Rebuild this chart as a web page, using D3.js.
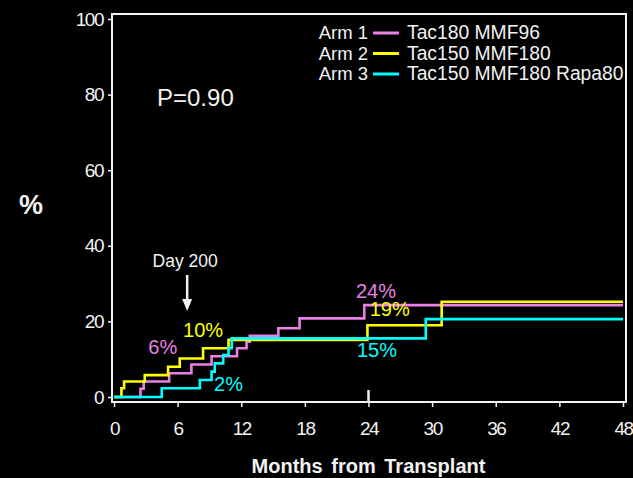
<!DOCTYPE html>
<html>
<head>
<meta charset="utf-8">
<script src="https://cdn.jsdelivr.net/npm/d3@7"></script>
<style>
  html, body { margin: 0; padding: 0; background: #000; }
  svg { display: block; }
  text { font-family: "Liberation Sans", Arial, Helvetica, sans-serif; fill: #f2f2f2; }
</style>
</head>
<body>
<svg id="chart" width="633" height="478"></svg>
<script>
// Cumulative incidence (%) by months from transplant, one step curve per arm
const arm1Months = [0, 2.5, 2.8, 5.2, 7.3, 9.2, 11.6, 12.5, 12.8, 15.5, 17.5, 23.6, 48];
const arm1Pct    = [0, 2.2, 4.1, 6.3, 8.6, 10.8, 12.9, 14.6, 16.2, 18.2, 20.8, 24.3, 24.3];

const arm2Months = [0, 0.7, 0.95, 2.9, 5.1, 6.2, 8.4, 10.8, 23.9, 30.9, 48];
const arm2Pct    = [0, 2.3, 4.1, 5.8, 8.0, 10.2, 12.9, 15.1, 19.0, 25.2, 25.2];

const arm3Months = [0, 4.5, 8.1, 9.2, 9.5, 10.3, 10.8, 11.1, 29.4, 48];
const arm3Pct    = [0, 2.3, 4.5, 6.7, 8.9, 11.1, 12.9, 15.5, 20.6, 20.6];

const armNames   = ["Arm 1", "Arm 2", "Arm 3"];
const regimens   = ["Tac180 MMF96", "Tac150 MMF180", "Tac150 MMF180 Rapa80"];
const armColors  = ["#ea80e6", "#ffff00", "#00ffff"];

const xTicks = [0, 6, 12, 18, 24, 30, 36, 42, 48];
const yTicks = [0, 20, 40, 60, 80, 100];

// Percent labels placed next to the curves: [month, percent, text, arm index]
const callouts = [
  [4.6, 11.5, "6%", 0],
  [8.4, 16.0, "10%", 1],
  [10.8, 1.5, "2%", 2],
  [24.7, 26.3, "24%", 0],
  [26.0, 21.3, "19%", 1],
  [24.8, 10.5, "15%", 2]
];

const pValue = "P=0.90";
const markerMonth = 6.9;   // Day 200
const markerLabel = "Day 200";

const svg = d3.select("#chart");

const x = d3.scaleLinear().domain([0, 48]).range([114, 623]);
const y = d3.scaleLinear().domain([0, 100]).range([397, 19]);

const box = { left: 112, top: 14, right: 626, bottom: 402 };

// Frame
svg.append("rect")
  .attr("x", box.left).attr("y", box.top)
  .attr("width", box.right - box.left).attr("height", box.bottom - box.top)
  .attr("fill", "none").attr("stroke", "#f2f2f2").attr("stroke-width", 2);

// Bottom axis
const xAxis = svg.append("g")
  .attr("transform", `translate(0,${box.bottom})`)
  .call(d3.axisBottom(x).tickValues(xTicks).tickSize(5).tickPadding(15).tickFormat(d3.format("d")));
xAxis.select(".domain").remove();
xAxis.selectAll(".tick line").attr("stroke", "#f2f2f2").attr("stroke-width", 1.5);
xAxis.selectAll(".tick text")
  .attr("fill", "#f2f2f2").style("font-size", "19px").style("letter-spacing", "-1.5px")
  .attr("font-family", null);

// Left axis
const yAxis = svg.append("g")
  .attr("transform", `translate(${box.left},0)`)
  .call(d3.axisLeft(y).tickValues(yTicks).tickSize(4).tickPadding(5).tickFormat(d3.format("d")));
yAxis.select(".domain").remove();
yAxis.selectAll(".tick line").attr("stroke", "#f2f2f2").attr("stroke-width", 1.5);
yAxis.selectAll(".tick text")
  .attr("fill", "#f2f2f2").style("font-size", "19px").style("letter-spacing", "-1.5px")
  .attr("font-family", null);

// Inward tick at 24 months
svg.append("line")
  .attr("x1", x(24)).attr("x2", x(24))
  .attr("y1", box.bottom - 12).attr("y2", box.bottom)
  .attr("stroke", "#f2f2f2").attr("stroke-width", 2.5);

// Axis titles
svg.append("text")
  .attr("x", x(24)).attr("y", 473)
  .attr("text-anchor", "middle")
  .style("font-size", "20px").style("font-weight", "bold").style("word-spacing", "3px")
  .text("Months from Transplant");

svg.append("text")
  .attr("x", 31).attr("y", 214)
  .attr("text-anchor", "middle")
  .style("font-size", "27px").style("font-weight", "bold")
  .text("%");

// Step curves
const series = [
  arm1Months.map((m, i) => [m, arm1Pct[i]]),
  arm2Months.map((m, i) => [m, arm2Pct[i]]),
  arm3Months.map((m, i) => [m, arm3Pct[i]])
];

const line = d3.line()
  .x(d => x(d[0]))
  .y(d => y(d[1]))
  .curve(d3.curveStepAfter);

series.forEach((s, i) => {
  svg.append("path")
    .datum(s)
    .attr("d", line)
    .attr("fill", "none")
    .attr("stroke", armColors[i])
    .attr("stroke-width", 2.6);
});

// Percent callouts
callouts.forEach(([m, p, t, k]) => {
  svg.append("text")
    .attr("x", x(m)).attr("y", y(p))
    .attr("text-anchor", "middle")
    .style("font-size", "20px")
    .style("fill", armColors[k])
    .text(t);
});

// Day 200 marker
svg.append("text")
  .attr("x", x(markerMonth) - 2).attr("y", 267)
  .attr("text-anchor", "middle")
  .style("font-size", "17.5px")
  .text(markerLabel);

svg.append("line")
  .attr("x1", x(markerMonth)).attr("x2", x(markerMonth))
  .attr("y1", 275).attr("y2", 302)
  .attr("stroke", "#f2f2f2").attr("stroke-width", 2.5);
svg.append("path")
  .attr("d", d3.line()([[x(markerMonth) - 5, 299], [x(markerMonth) + 5, 299], [x(markerMonth), 311]]))
  .attr("fill", "#f2f2f2");

// P value
svg.append("text")
  .attr("x", 157).attr("y", 106)
  .style("font-size", "24px")
  .text(pValue);

// Legend
const legend = svg.append("g");
armNames.forEach((name, i) => {
  const ly = 39 + i * 20.5;
  legend.append("text")
    .attr("x", 368).attr("y", ly)
    .attr("text-anchor", "end")
    .style("font-size", "18.5px")
    .text(name);
  legend.append("line")
    .attr("x1", 373).attr("x2", 399)
    .attr("y1", ly - 6).attr("y2", ly - 6)
    .attr("stroke", armColors[i]).attr("stroke-width", 3);
  legend.append("text")
    .attr("x", 407).attr("y", ly)
    .style("font-size", "19.3px")
    .text(regimens[i]);
});
</script>
</body>
</html>
